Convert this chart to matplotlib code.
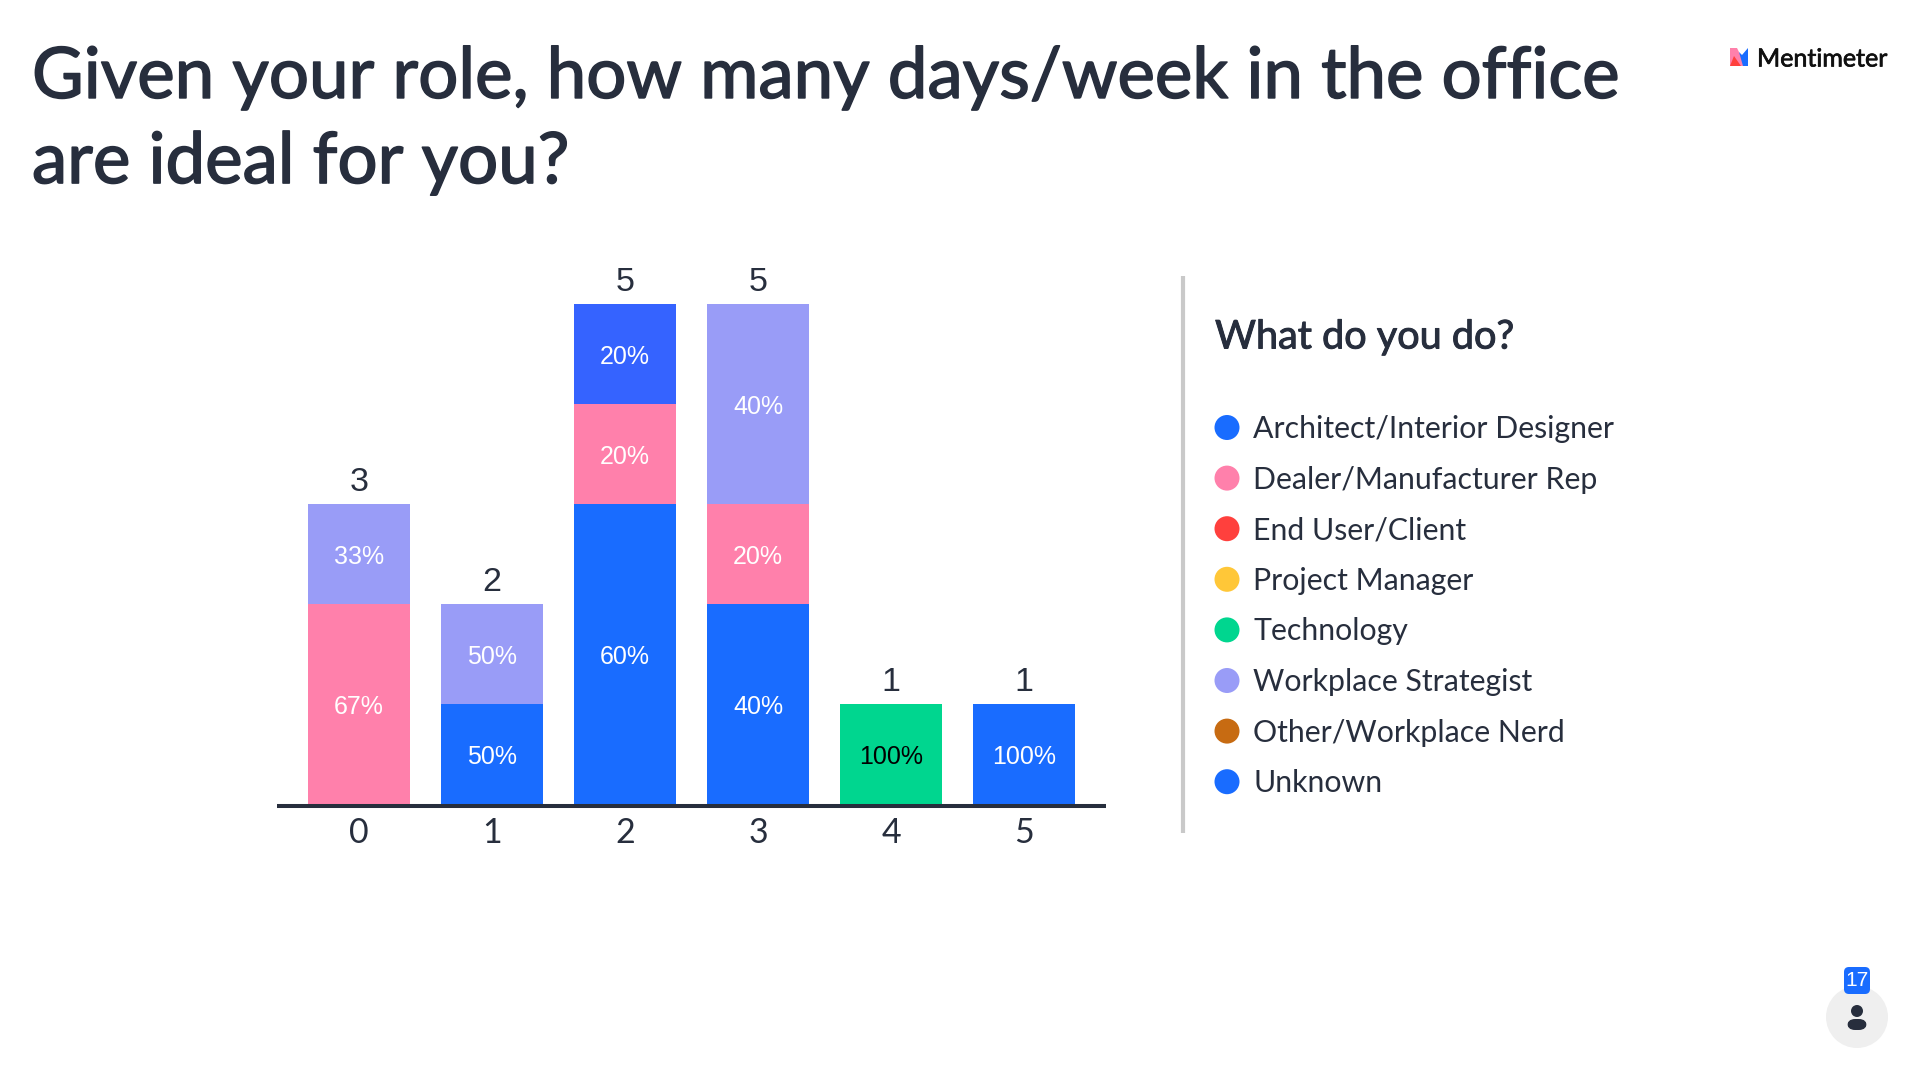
import matplotlib
matplotlib.use('Agg')
import matplotlib.pyplot as plt
import matplotlib.patheffects as pe
import numpy as np
from matplotlib.patches import Circle, FancyBboxPatch, Polygon

plt.rcParams['font.family'] = ['Lato', 'DejaVu Sans']
NUMFONT = ['Liberation Sans', 'DejaVu Sans']

###chart data###
title = 'Given your role, how many days/week in the office\nare ideal for you?'
legendTitle = 'What do you do?'
days = ['0', '1', '2', '3', '4', '5']
roles = ['Architect/Interior Designer', 'Dealer/Manufacturer Rep', 'End User/Client', 'Project Manager',
         'Technology', 'Workplace Strategist', 'Other/Workplace Nerd', 'Unknown']
architect = [0, 1, 3, 2, 0, 1]
dealer = [2, 0, 1, 1, 0, 0]
endUser = [0, 0, 0, 0, 0, 0]
projectManager = [0, 0, 0, 0, 0, 0]
technology = [0, 0, 0, 0, 1, 0]
strategist = [1, 1, 0, 2, 0, 0]
other = [0, 0, 0, 0, 0, 0]
unknown = [0, 0, 1, 0, 0, 0]
series = [architect, dealer, endUser, projectManager, technology, strategist, other, unknown]
colors = ['#196cff', '#ff80ab', '#ff403d', '#ffc738', '#00d68f', '#999cf7', '#c76b12', '#3563ff']
legendColors = ['#196cff', '#ff80ab', '#ff403d', '#ffc738', '#00d68f', '#999cf7', '#c76b12', '#196cff']
responses = '17'

DARK = '#272e3d'
W, H = 1920, 1080

fig = plt.figure(figsize=(W / 100, H / 100), dpi=100, facecolor='white')

#full-figure overlay in pixel coords for the non chart parts
bg = fig.add_axes([0, 0, 1, 1])
bg.set_xlim(0, W)
bg.set_ylim(H, 0)
bg.axis('off')

#stroke to thicken Lato regular, no medium weight here
def thicken(lw, col=DARK):
    return [pe.withStroke(linewidth=lw, foreground=col)]

#bar chart
ax = fig.add_axes([277 / W, 1 - 804 / H, (1106 - 277) / W, 500 / H])
ax.patch.set_alpha(0)
x = np.arange(len(days))
bottom = np.zeros(len(days))
totals = np.sum(series, axis=0)
for vals, col in zip(series, colors):
    vals = np.array(vals)
    ax.bar(x, vals, 0.767, bottom=bottom, color=col, linewidth=0)
    for i, v in enumerate(vals):
        if v > 0:
            txtCol = 'black' if col == '#00d68f' else 'white'
            ax.text(x[i], bottom[i] + v / 2 - 0.025, f'{round(100 * v / totals[i])}%', ha='center', va='center',
                    fontsize=18, color=txtCol, family=NUMFONT)
    bottom += vals
for i, t in enumerate(totals):
    ax.text(x[i], t + 0.06, str(t), ha='center', va='bottom', fontsize=24.5, color=DARK, family=NUMFONT)
ax.set_xlim(-0.617, 5.617)
ax.set_ylim(0, 5)
ax.set_xticks(x, days, family=NUMFONT)
ax.set_yticks([])
ax.tick_params(axis='x', length=0, pad=8, labelsize=24.5, labelcolor=DARK)
for s in ['top', 'left', 'right']:
    ax.spines[s].set_visible(False)
ax.spines['bottom'].set_color(DARK)
ax.spines['bottom'].set_linewidth(2.9)
ax.spines['bottom'].set_capstyle('butt')
ax.spines['bottom'].set_position(('outward', 1.5))

#title
bg.text(32, 120, title, fontsize=51, color=DARK, va='center', ha='left', linespacing=1.38,
        path_effects=thicken(1.1))

#legend
bg.plot([1183, 1183], [276, 833], color='#c9c9c9', lw=3, solid_capstyle='butt')
bg.text(1215, 337, legendTitle, fontsize=28.5, color=DARK, va='center', path_effects=thicken(0.7))
for i, (name, col) in enumerate(zip(roles, legendColors)):
    yy = 427.5 + i * 50.6
    bg.add_patch(Circle((1227, yy), 12.5, color=col, lw=0))
    bg.text(1253, yy + 1.5, name, fontsize=21.8, color=DARK, va='center')

#logo
bg.add_patch(Polygon([(1730, 66), (1730, 48), (1737, 48), (1746, 66)], color='#ff80ab', lw=0))
bg.add_patch(Polygon([(1730, 66), (1734, 56), (1741, 66)], color='#ff403d', lw=0))
bg.add_patch(Polygon([(1739, 52), (1742, 55), (1748, 48), (1748, 66), (1743, 66)], color='#196cff', lw=0))
bg.text(1757, 59, 'Mentimeter', fontsize=18, color='#101010', va='center', path_effects=thicken(0.5, '#101010'))

#responses badge
bg.add_patch(Circle((1857, 1017), 31, color='#efefef', lw=0))
bg.add_patch(FancyBboxPatch((1850, 973), 14, 15, boxstyle='round,pad=6,rounding_size=5', color='#196cff', lw=0))
bg.text(1857, 981, responses, fontsize=15, color='white', ha='center', va='center', family=NUMFONT)
bg.add_patch(Circle((1857, 1011), 6, color=DARK, lw=0))
bg.add_patch(FancyBboxPatch((1847, 1019), 20, 11, boxstyle='round,pad=0,rounding_size=8', color=DARK, lw=0))

fig.savefig('out.png', dpi=100)
